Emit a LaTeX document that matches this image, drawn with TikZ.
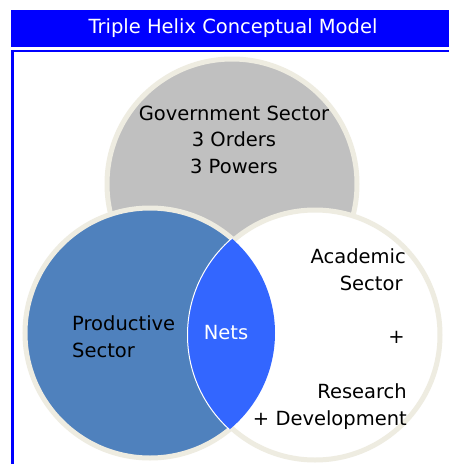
\documentclass[tikz,border=0pt]{standalone}
\usepackage{fontspec}
\setmainfont{DejaVu Sans}
\usepackage{xcolor}
\usetikzlibrary{positioning}
\definecolor{barblue}{rgb}{0, 0, 1}
\definecolor{prodblue}{HTML}{4F81BD}
\definecolor{netsblue}{HTML}{3366FF}
\definecolor{govgray}{HTML}{C0C0C0}
\definecolor{rimcream}{HTML}{EEECE1}

\tikzset{
    sector/.style={circle, draw=rimcream, line width=5pt, minimum size=250pt, inner sep=0pt},
    label/.style={font=\fontsize{19.5}{26.5}\selectfont, inner sep=0pt}
}

\begin{document}
\begin{tikzpicture}[x=1pt, y=-1pt]
        \useasboundingbox (0,0) rectangle (448,464);
        \fill[white] (0,0) rectangle (448,464);

        % title bar and frame
        \fill[barblue] (11,9.5) rectangle (460,47);
        \node[label, text=white] (title) at (233,28) {Triple Helix Conceptual Model};
        \draw[barblue, line width=2.2pt] (12.5,51) rectangle (470,480);

        % the three sectors
        \node[sector, fill=govgray] (gov) at (232,184) {};
        \node[sector, fill=prodblue] (prod) at (150,333) {};
        \node[sector, fill=white] (acad) at (315,335) {};

        % nets = overlap of productive and academic
        \begin{scope}
            \clip (prod.center) circle (125);
            \fill[netsblue] (acad.center) circle (127.5);
            \draw[white, line width=1pt] (acad.center) circle (127.5);
        \end{scope}

        % texts (anchored at the last line)
        \node[label, align=center, anchor=base] (govtext) at (234,173)
            {Government Sector\\3 Orders\\3 Powers};
        \node[label, align=left, anchor=base west] (prodtext) at (72,357)
            {Productive\\Sector};
        \node[label, text=white, anchor=base] (nets) at (226,339) {Nets};
        \node[label, align=right, anchor=base east] (acadtext) at (406,290)
            {Academic\\Sector\,};
        \node[label, anchor=base east] (plus) at (405,343) {+};
        \node[label, align=right, anchor=base east] (rdtext) at (407,425)
            {Research\\+ Development};

    \end{tikzpicture}
\end{document}
